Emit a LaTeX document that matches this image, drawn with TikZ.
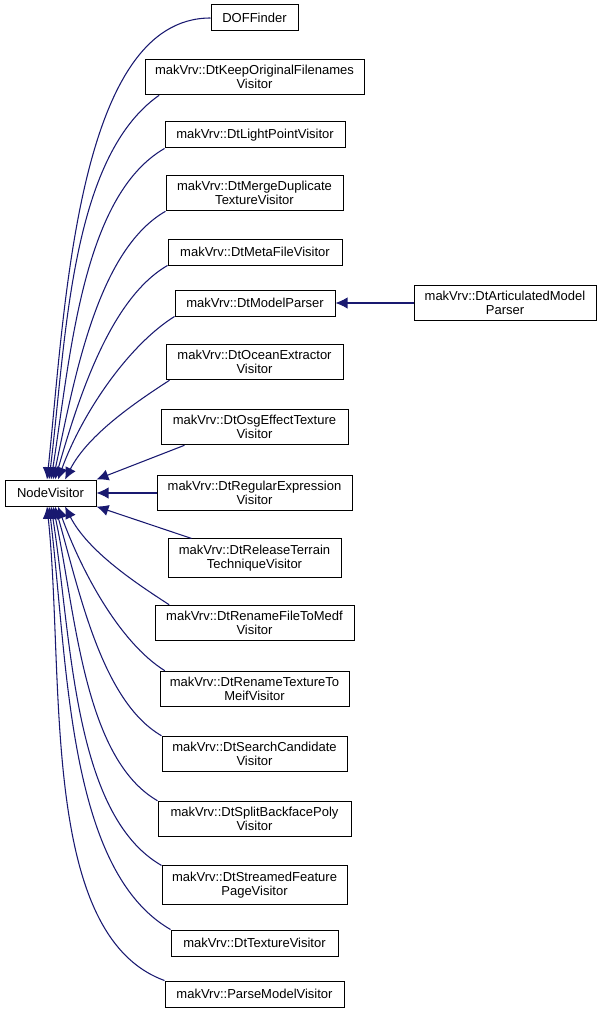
\documentclass[tikz,border=0pt]{standalone}
\usepackage{fontspec}
\setmainfont{Liberation Sans}
\usetikzlibrary{arrows.meta}
\definecolor{midblue}{RGB}{25,25,112}
\tikzset{
  cls/.style={draw=black, fill=white, align=center, line width=0.75pt,
    font=\fontsize{9.75}{10.5}\selectfont, inner xsep=2pt, inner ysep=4.5pt,
    minimum height=19.5pt},
  inh/.style={draw=midblue, line width=0.8pt, -{Latex[length=9pt,width=8.5pt]}},
  curvy/.style={out looseness=0.7, in looseness=0.9}
}
\begin{document}
\begin{tikzpicture}[x=0.75pt,y=-0.75pt]
  \useasboundingbox (0,0) rectangle (603,1013);
  \path[every node/.style=cls]
    (50.5,493) node[minimum width=68.25pt] (nv){NodeVisitor}
    (254.5,18) node[minimum width=65.25pt] (dof){DOFFinder}
    (254.5,77) node[minimum width=164.25pt] (keep){makVrv::DtKeepOriginalFilenames\\Visitor}
    (255,135) node[minimum width=135pt] (light){makVrv::DtLightPointVisitor}
    (254.5,193) node[minimum width=132.75pt] (merge){makVrv::DtMergeDuplicate\\TextureVisitor}
    (255,252) node[minimum width=130.5pt] (meta){makVrv::DtMetaFileVisitor}
    (255,303) node[minimum width=120pt] (model){makVrv::DtModelParser}
    (505,303) node[minimum width=136.5pt] (artic){makVrv::DtArticulatedModel\\Parser}
    (254.5,362) node[minimum width=132.75pt] (ocean){makVrv::DtOceanExtractor\\Visitor}
    (254.5,427) node[minimum width=140.25pt] (osg){makVrv::DtOsgEffectTexture\\Visitor}
    (254.5,493) node[minimum width=146.25pt] (regex){makVrv::DtRegularExpression\\Visitor}
    (254.5,558) node[minimum width=129.75pt] (release){makVrv::DtReleaseTerrain\\TechniqueVisitor}
    (254.5,623) node[minimum width=149.25pt] (renfile){makVrv::DtRenameFileToMedf\\Visitor}
    (254.5,689) node[minimum width=141.75pt] (rentex){makVrv::DtRenameTextureTo\\MeifVisitor}
    (254.5,754) node[minimum width=138.75pt] (search){makVrv::DtSearchCandidate\\Visitor}
    (254.5,819) node[minimum width=144.75pt] (split){makVrv::DtSplitBackfacePoly\\Visitor}
    (254.5,885) node[minimum width=138.75pt] (stream){makVrv::DtStreamedFeature\\PageVisitor}
    (254.5,943) node[minimum width=125.25pt] (texture){makVrv::DtTextureVisitor}
    (254.5,994) node[minimum width=134.25pt] (parse){makVrv::ParseModelVisitor};
  \begin{scope}[inh]
    % upper subclasses
    \draw (dof.west) to[curvy, out=180, in=84] ([xshift=-2.6pt]nv.north);
    \draw ([xshift=11pt]keep.south west) to[curvy, out=215, in=83] ([xshift=-1.1pt]nv.north);
    \draw (light.south west) to[curvy, out=210, in=81] ([xshift=0.4pt]nv.north);
    \draw (merge.south west) to[curvy, out=210, in=78] ([xshift=1.9pt]nv.north);
    \draw (meta.south west) to[curvy, out=210, in=74] ([xshift=3.4pt]nv.north);
    \draw (model.south west) to[curvy, out=212, in=70] ([xshift=5.6pt]nv.north);
    \draw ([xshift=3pt]ocean.south west) to[curvy, out=213, in=63] ([xshift=10.9pt]nv.north);
    \draw ([xshift=18pt]osg.south west) -- (nv.north east);
    \draw (regex.west) -- (nv.east);
    \draw ([xshift=18pt]release.north west) -- (nv.south east);
    % lower subclasses
    \draw ([xshift=11pt]renfile.north west) to[curvy, out=147, in=-63] ([xshift=10.9pt]nv.south);
    \draw ([xshift=4pt]rentex.north west) to[curvy, out=148, in=-70] ([xshift=5.6pt]nv.south);
    \draw (search.north west) to[curvy, out=150, in=-74] ([xshift=3.4pt]nv.south);
    \draw (split.north west) to[curvy, out=150, in=-78] ([xshift=1.9pt]nv.south);
    \draw (stream.north west) to[curvy, out=150, in=-81] ([xshift=0.4pt]nv.south);
    \draw (texture.north west) to[curvy, out=150, in=-83] ([xshift=-1.1pt]nv.south);
    \draw (parse.north west) to[curvy, out=160, in=-84] ([xshift=-2.6pt]nv.south);
    % second level
    \draw (artic.west) -- (model.east);
  \end{scope}
\end{tikzpicture}
\end{document}
